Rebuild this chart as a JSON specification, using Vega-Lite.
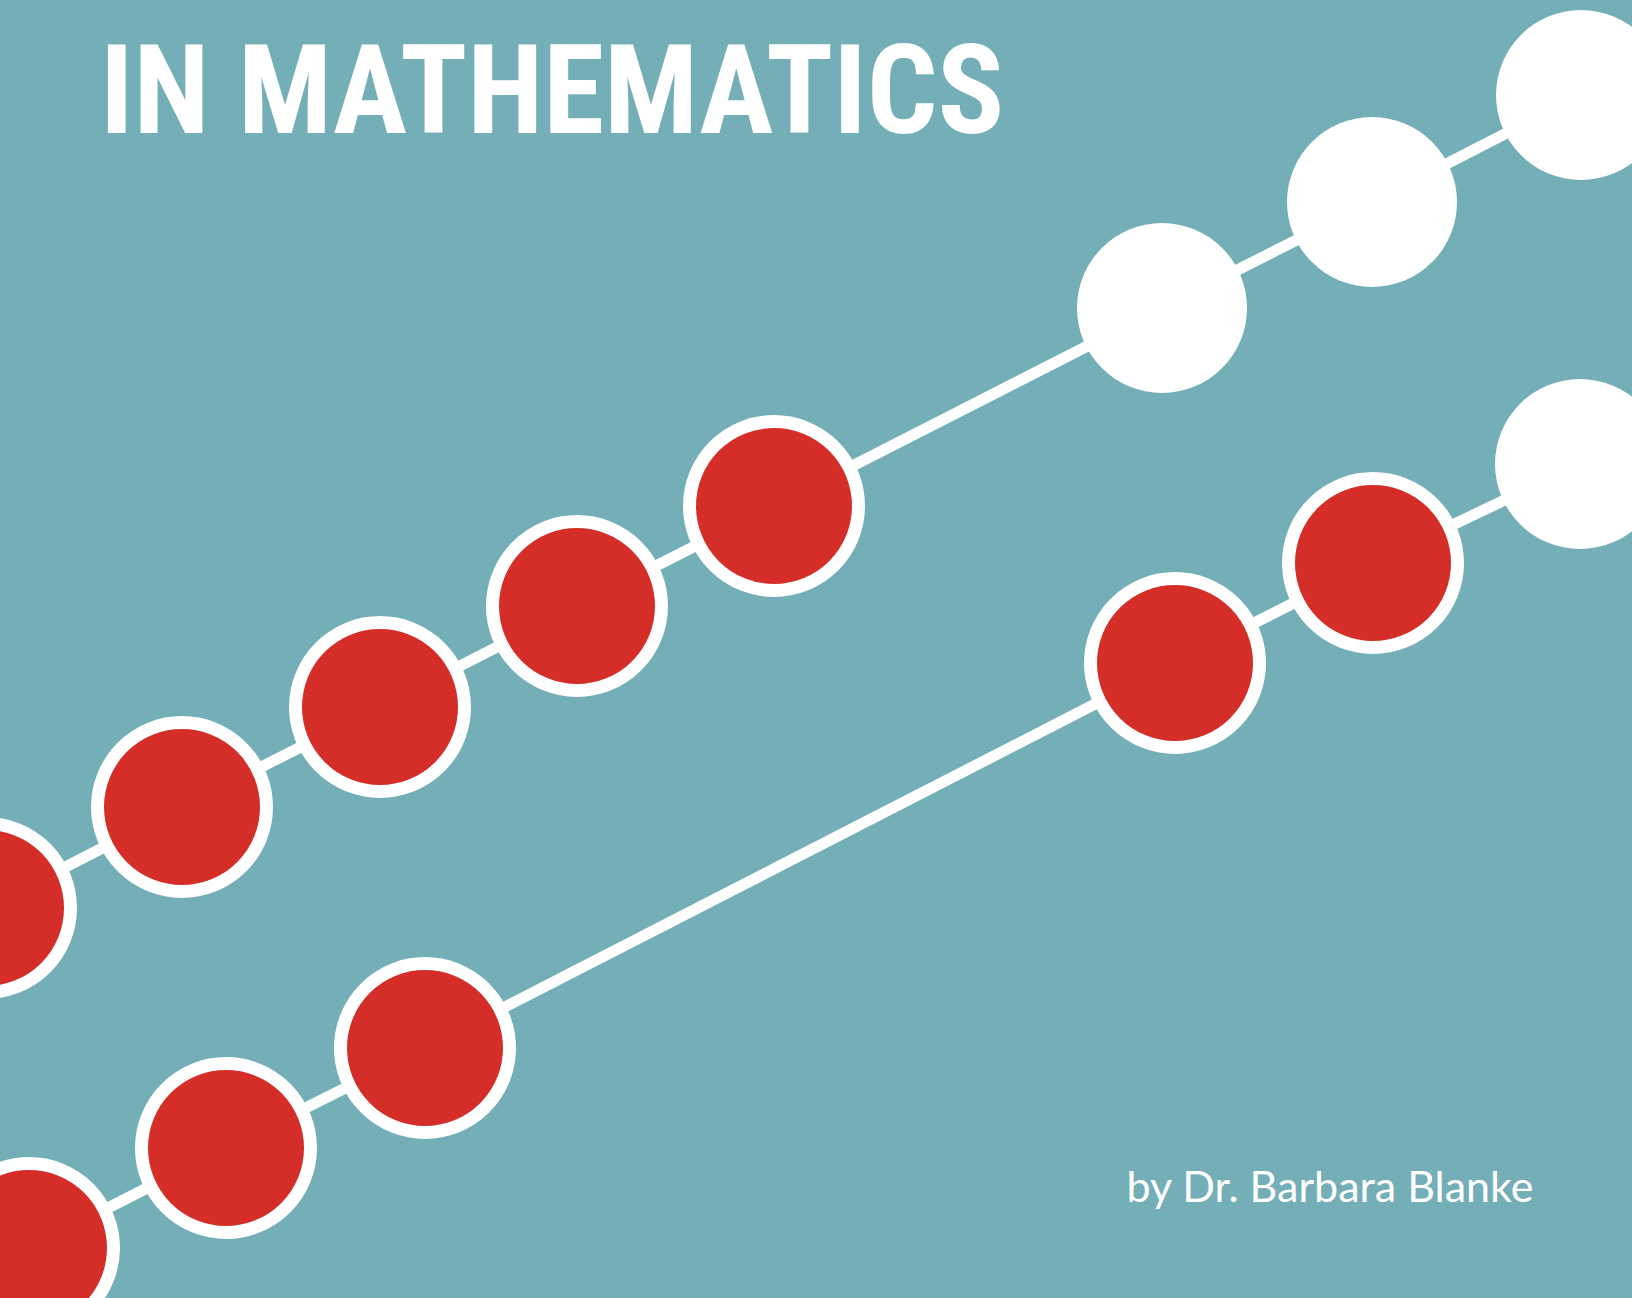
{
  "$schema": "https://vega.github.io/schema/vega-lite/v6.json",
  "width": 1632,
  "height": 1298,
  "autosize": "none",
  "padding": 0,
  "background": "#74AFB7",
  "config": {"view": {"stroke": null}},
  "datasets": {
    "beads": [
      {"series": "upper", "kind": "red", "x": -14, "y": 908},
      {"series": "upper", "kind": "red", "x": 182, "y": 807},
      {"series": "upper", "kind": "red", "x": 380, "y": 707},
      {"series": "upper", "kind": "red", "x": 577, "y": 606},
      {"series": "upper", "kind": "red", "x": 774, "y": 506},
      {"series": "upper", "kind": "white", "x": 1162, "y": 308},
      {"series": "upper", "kind": "white", "x": 1372, "y": 202},
      {"series": "upper", "kind": "white", "x": 1581, "y": 95},
      {"series": "lower", "kind": "red", "x": 29, "y": 1248},
      {"series": "lower", "kind": "red", "x": 226, "y": 1148},
      {"series": "lower", "kind": "red", "x": 425, "y": 1048},
      {"series": "lower", "kind": "red", "x": 1175, "y": 663},
      {"series": "lower", "kind": "red", "x": 1373, "y": 563},
      {"series": "lower", "kind": "white", "x": 1580, "y": 464}
    ],
    "labels": [
      {"role": "title", "text": "IN MATHEMATICS", "x": 100, "y": 133},
      {"role": "byline", "text": "by Dr. Barbara Blanke", "x": 1330, "y": 1202}
    ]
  },
  "encoding": {
    "x": {"field": "x", "type": "quantitative", "scale": {"domain": [0, 1632], "nice": false, "zero": false}, "axis": null},
    "y": {"field": "y", "type": "quantitative", "scale": {"domain": [0, 1298], "nice": false, "zero": false, "reverse": true}, "axis": null}
  },
  "layer": [
    {
      "data": {"name": "beads"},
      "mark": {"type": "line", "color": "#FFFFFF", "strokeWidth": 11},
      "encoding": {"detail": {"field": "series", "type": "nominal"}}
    },
    {
      "data": {"name": "beads"},
      "transform": [{"filter": "datum.kind == 'red'"}],
      "mark": {"type": "point", "shape": "circle", "filled": true, "fill": "#D52E29", "fillOpacity": 1, "stroke": "#FFFFFF", "strokeWidth": 13, "opacity": 1, "size": 28561}
    },
    {
      "data": {"name": "beads"},
      "transform": [{"filter": "datum.kind == 'white'"}],
      "mark": {"type": "point", "shape": "circle", "filled": true, "fill": "#FFFFFF", "fillOpacity": 1, "opacity": 1, "size": 28900}
    },
    {
      "data": {"name": "labels"},
      "transform": [{"filter": "datum.role == 'title'"}],
      "mark": {"type": "text", "align": "left", "baseline": "alphabetic", "font": "Roboto Condensed, Roboto, sans-serif", "fontWeight": "bold", "fontSize": 124, "color": "#FFFFFF"},
      "encoding": {"text": {"field": "text"}}
    },
    {
      "data": {"name": "labels"},
      "transform": [{"filter": "datum.role == 'byline'"}],
      "mark": {"type": "text", "align": "center", "baseline": "alphabetic", "font": "Lato, sans-serif", "fontWeight": "normal", "fontSize": 43, "color": "#FFFFFF"},
      "encoding": {"text": {"field": "text"}}
    }
  ]
}
